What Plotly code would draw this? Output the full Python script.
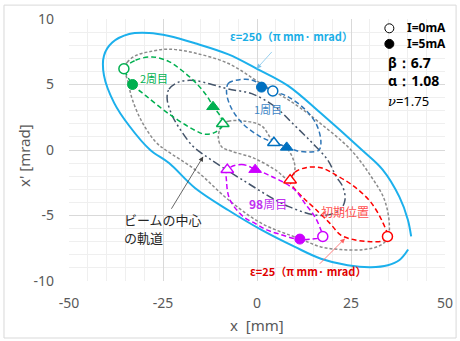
import plotly.graph_objects as go

# ---------------- data ----------------
# emittance 250 pi mm mrad acceptance curve (cyan, open at lower right)
eps250_x = [40.2, 37.9, 34.8, 30.3, 24.1, 17.0, 10.1, 1.2, -7.6, -16.5, -23.4, -28.4, -34.0, -38.0,
            -40.7, -40.7, -38.5, -34.0, -28.7, -23.4, -16.5, -7.6, 0.0, 8.3, 17.0, 27.7, 33.4, 37.9, 40.1, 41.0]
eps250_y = [-7.6, -8.4, -8.8, -8.95, -8.8, -8.3, -7.4, -6.1, -4.6, -2.9, -1.0, 0.0, 1.85, 3.6,
            5.7, 7.2, 8.2, 8.85, 8.93, 8.7, 8.15, 7.3, 6.2, 4.9, 2.8, 0.05, -1.5, -3.6, -5.3, -6.6]

# outer gray dotted curve (through the circle markers)
outer_x = [-35.4, -34.5, -32.3, -28.7, -23.4, -16.5, -7.6, 1.2, 10.1, 17.0, 25.0, 30.3, 33.9, 35.2, 34.8,
           33.0, 28.5, 22.3, 17.0, 11.6, 1.2, -7.6, -16.5, -24.3, -26.9, -30.5, -33.2, -34.5, -35.4]
outer_y = [6.2, 6.7, 7.2, 7.5, 7.7, 7.4, 6.6, 5.05, 3.5, 2.0, 0.0, -2.0, -3.8, -5.7, -6.7,
           -7.25, -7.6, -7.6, -7.4, -6.8, -5.6, -3.8, -1.5, 0.0, 0.6, 2.1, 3.9, 5.4, 6.2]

# inner gray dotted curve (through the triangle markers)
inner_x = [-9.1, -7.6, -3.2, 1.2, 4.5, 7.9, 10.1, 8.8, 4.8, -1.0, -6.7, -9.4, -10.3, -9.1]
inner_y = [2.0, 2.2, 2.2, 1.85, 0.6, 0.15, -1.3, -2.3, -1.5, -0.6, -0.1, 0.25, 1.0, 2.0]

# beam-centre orbit (dark dash-dot)
center_x = [-23.9, -23.4, -20.7, -16.5, -12.0, -7.6, -1.4, 4.8, 10.1, 14.5, 18.8, 21.0, 22.8, 23.4,
            22.0, 17.0, 8.3, -3.2, -14.7, -17.2, -19.9, -22.5, -23.9]
center_y = [3.9, 4.65, 5.2, 5.3, 5.0, 4.65, 4.3, 3.3, 1.85, 0.6, -0.76, -2.0, -2.8, -3.8,
            -4.6, -5.0, -4.3, -2.4, -0.25, 0.33, 1.35, 2.6, 3.9]

# eps=25 ellipses for each turn
init_x = [8.8, 10.1, 13.0, 17.0, 21.5, 25.9, 30.3, 33.4, 34.7, 33.9, 30.3, 25.9, 22.3, 19.4, 15.5, 12.5, 10.1, 8.8]
init_y = [-2.4, -1.7, -1.35, -1.35, -2.0, -2.8, -4.0, -5.5, -6.6, -6.9, -7.0, -6.85, -6.5, -5.6, -4.5, -3.7, -3.0, -2.4]

turn1_x = [-8.1, -7.6, -5.0, -1.4, 1.2, 4.2, 8.0, 12.8, 15.9, 17.0, 16.5, 14.1, 10.6, 7.9, 4.5, 0.4, -4.1, -7.0, -8.1]
turn1_y = [4.4, 5.1, 5.35, 5.35, 4.95, 4.5, 4.1, 3.1, 1.9, 0.6, 0.0, -0.15, -0.05, 0.25, 0.56, 1.1, 2.1, 3.3, 4.4]

turn2_x = [-35.4, -32.3, -27.8, -23.4, -19.9, -16.5, -13.4, -11.6, -9.8, -9.1, -11.2, -13.8, -16.5, -23.4,
           -29.6, -33.1, -34.6, -35.4]
turn2_y = [6.2, 6.85, 7.1, 6.75, 6.05, 5.2, 4.15, 3.3, 2.6, 1.9, 1.35, 1.2, 1.5, 2.75, 4.15, 5.0, 5.7, 6.2]

turn98_x = [-7.9, -4.1, -0.6, 3.0, 6.6, 10.1, 12.8, 15.4, 17.0, 17.5, 14.5, 11.5, 5.7, 2.6, -0.5, -3.6, -7.2, -8.1, -7.9]
turn98_y = [-1.5, -1.1, -1.45, -1.9, -2.4, -3.05, -4.1, -5.1, -6.1, -6.6, -6.8, -6.85, -6.4, -6.1, -5.6, -5.1,
            -3.8, -2.4, -1.5]

# markers: order = 初期位置, 1周目, 2周目, 98周目
turn_colors = ["#ff0000", "#0070c0", "#00b050", "#cc00ff"]
circ0_x = [34.7, 4.2, -35.4, 17.5]      # I=0mA, circle
circ0_y = [-6.6, 4.5, 6.2, -6.6]
circ5_x = [None, 1.2, -33.1, 11.4]      # I=5mA, circle
circ5_y = [None, 4.8, 5.0, -6.8]
tri0_x = [8.8, 4.5, -9.1, -7.9]         # I=0mA, triangle
tri0_y = [-2.3, 0.55, 2.0, -1.5]
tri5_x = [None, 7.9, -11.7, -0.5]       # I=5mA, triangle
tri5_y = [None, 0.2, 3.3, -1.5]

x_ticks = [-50, -25, 0, 25, 50]
y_ticks = [-10, -5, 0, 5, 10]

FONT = "Noto Sans CJK JP"
LFONT = "Noto Sans"

fig = go.Figure()

def curve(x, y, color, width, dash):
    fig.add_trace(go.Scatter(x=x, y=y, mode="lines", showlegend=False, hoverinfo="skip",
                             line=dict(color=color, width=width, dash=dash, shape="spline", smoothing=1.0)))

curve(eps250_x, eps250_y, "#1cb0ec", 2, "solid")
curve(outer_x, outer_y, "#8c8c8c", 1.5, "3px,2px")
curve(inner_x, inner_y, "#8c8c8c", 1.5, "3px,2px")
curve(center_x, center_y, "#44546a", 1.5, "8px,3px,2px,3px,2px,3px")
curve(init_x, init_y, "#ff0000", 1.5, "5px,3px")
curve(turn1_x, turn1_y, "#2e75b6", 1.5, "5px,3px")
curve(turn2_x, turn2_y, "#00b050", 1.5, "5px,3px")
curve(turn98_x, turn98_y, "#cc00ff", 1.5, "5px,3px")

for i, c in enumerate(turn_colors):
    fig.add_trace(go.Scatter(x=[circ0_x[i]], y=[circ0_y[i]], mode="markers", showlegend=False,
                             marker=dict(symbol="circle", size=10, color="white", line=dict(color=c, width=1.5))))
    fig.add_trace(go.Scatter(x=[tri0_x[i]], y=[tri0_y[i]], mode="markers", showlegend=False,
                             marker=dict(symbol="triangle-up", size=11, color="white", line=dict(color=c, width=1.5))))
    if circ5_x[i] is not None:
        fig.add_trace(go.Scatter(x=[circ5_x[i]], y=[circ5_y[i]], mode="markers", showlegend=False,
                                 marker=dict(symbol="circle", size=10, color=c, line=dict(color=c, width=1))))
    if tri5_x[i] is not None:
        fig.add_trace(go.Scatter(x=[tri5_x[i]], y=[tri5_y[i]], mode="markers", showlegend=False,
                                 marker=dict(symbol="triangle-up", size=11, color=c, line=dict(color=c, width=1))))

ann = []
def text(x, y, t, size, color, xref="x", yref="y", xanchor="center", align="center", angle=0, family=FONT):
    ann.append(dict(x=x, y=y, xref=xref, yref=yref, text=t, showarrow=False, xanchor=xanchor,
                    yanchor="middle", align=align, textangle=angle,
                    font=dict(family=family, size=size, color=color)))

def arrow(x, y, ax, ay, color):
    ann.append(dict(x=x, y=y, ax=ax, ay=ay, xref="x", yref="y", axref="x", ayref="y", text="",
                    showarrow=True, arrowhead=2, arrowsize=1.2, arrowwidth=0.8, arrowcolor=color))

text(9.2, 8.7, "<b>ε=250（π mm· mrad）</b>", 11, "#1aaee6")
arrow(-0.1, 6.2, 4.3, 7.6, "#7fc4ea")
text(13.6, -9.2, "<b>ε=25（π mm· mrad）</b>", 11, "#e00000")
arrow(23.4, -6.75, 16.3, -8.8, "#ff6060")
text(23.4, -4.7, "初期位置", 12, "#ff5050")
text(3.0, -4.1, "<b>98</b>周目", 12, "#c030f0")
text(3.0, 3.1, "1周目", 11, "#3d85c6")
text(-27.3, 5.5, "2周目", 11, "#00b050")
text(-35.9, -5.3, "ビームの中心", 13, "#262626", xanchor="left", align="left")
text(-35.9, -6.7, "の軌道", 13, "#262626", xanchor="left", align="left")
arrow(-14.3, -0.5, -23.0, -4.6, "#404040")

# legend block (top right)
text(0.893, 0.936, "<b>I=0mA<br>I=5mA</b>", 12, "#000000", xref="paper", yref="paper",
     xanchor="left", align="left", family=LFONT)
text(0.844, 0.835, "<b>β：6.7</b>", 14, "#000000", xref="paper", yref="paper", xanchor="left", family=LFONT)
text(0.844, 0.7645, "<b>α：1.08</b>", 14, "#000000", xref="paper", yref="paper", xanchor="left", family=LFONT)
text(0.844, 0.688, "<i><span style='font-family:DejaVu Serif'>ν</span></i>=1.75", 13, "#000000",
     xref="paper", yref="paper", xanchor="left", family=LFONT)

# axis titles
text(0.5, -0.168, "x  [mm]", 15, "#595959", xref="paper", yref="paper", family=LFONT)
text(-0.1197, 0.481, "x' [mrad]", 15, "#595959", xref="paper", yref="paper", angle=-90, family=LFONT)

shapes = [
    dict(type="circle", xref="paper", yref="paper", xsizemode="pixel", ysizemode="pixel",
         xanchor=0.852, yanchor=0.9645, x0=-4.5, x1=4.5, y0=-4.5, y1=4.5,
         line=dict(color="#000000", width=1), fillcolor="white"),
    dict(type="circle", xref="paper", yref="paper", xsizemode="pixel", ysizemode="pixel",
         xanchor=0.852, yanchor=0.905, x0=-4.5, x1=4.5, y0=-4.5, y1=4.5,
         line=dict(color="#000000", width=1), fillcolor="#000000"),
    dict(type="rect", xref="paper", yref="paper", x0=-0.1729, x1=1.0295, y0=-0.2176, y1=1.053,
         line=dict(color="#d9d9d9", width=1), fillcolor="rgba(0,0,0,0)", layer="below"),
]

axis_common = dict(showgrid=True, gridcolor="#d9d9d9", gridwidth=1, zeroline=False, showline=False,
                   ticks="", automargin=False, tickfont=dict(family=LFONT, size=14, color="#595959"),
                   fixedrange=True)

fig.update_layout(
    width=460, height=341,
    margin=dict(l=69, r=15, t=19, b=60, autoexpand=False),
    paper_bgcolor="white", plot_bgcolor="white",
    showlegend=False,
    xaxis=dict(range=[-50, 50], tickvals=x_ticks, ticktext=[str(v) for v in x_ticks],
               minor=dict(dtick=5, showgrid=True, gridcolor="#efefef", gridwidth=1),
               ticklabelstandoff=12, **axis_common),
    yaxis=dict(range=[-10, 10], tickvals=y_ticks, ticktext=[str(v) for v in y_ticks],
               minor=dict(dtick=1, showgrid=True, gridcolor="#efefef", gridwidth=1),
               ticklabelstandoff=14, **axis_common),
    annotations=ann,
    shapes=shapes,
)

fig.write_html("out.html", config={"displayModeBar": False},
               post_script="document.body.style.margin='0';document.body.style.overflow='hidden';")
